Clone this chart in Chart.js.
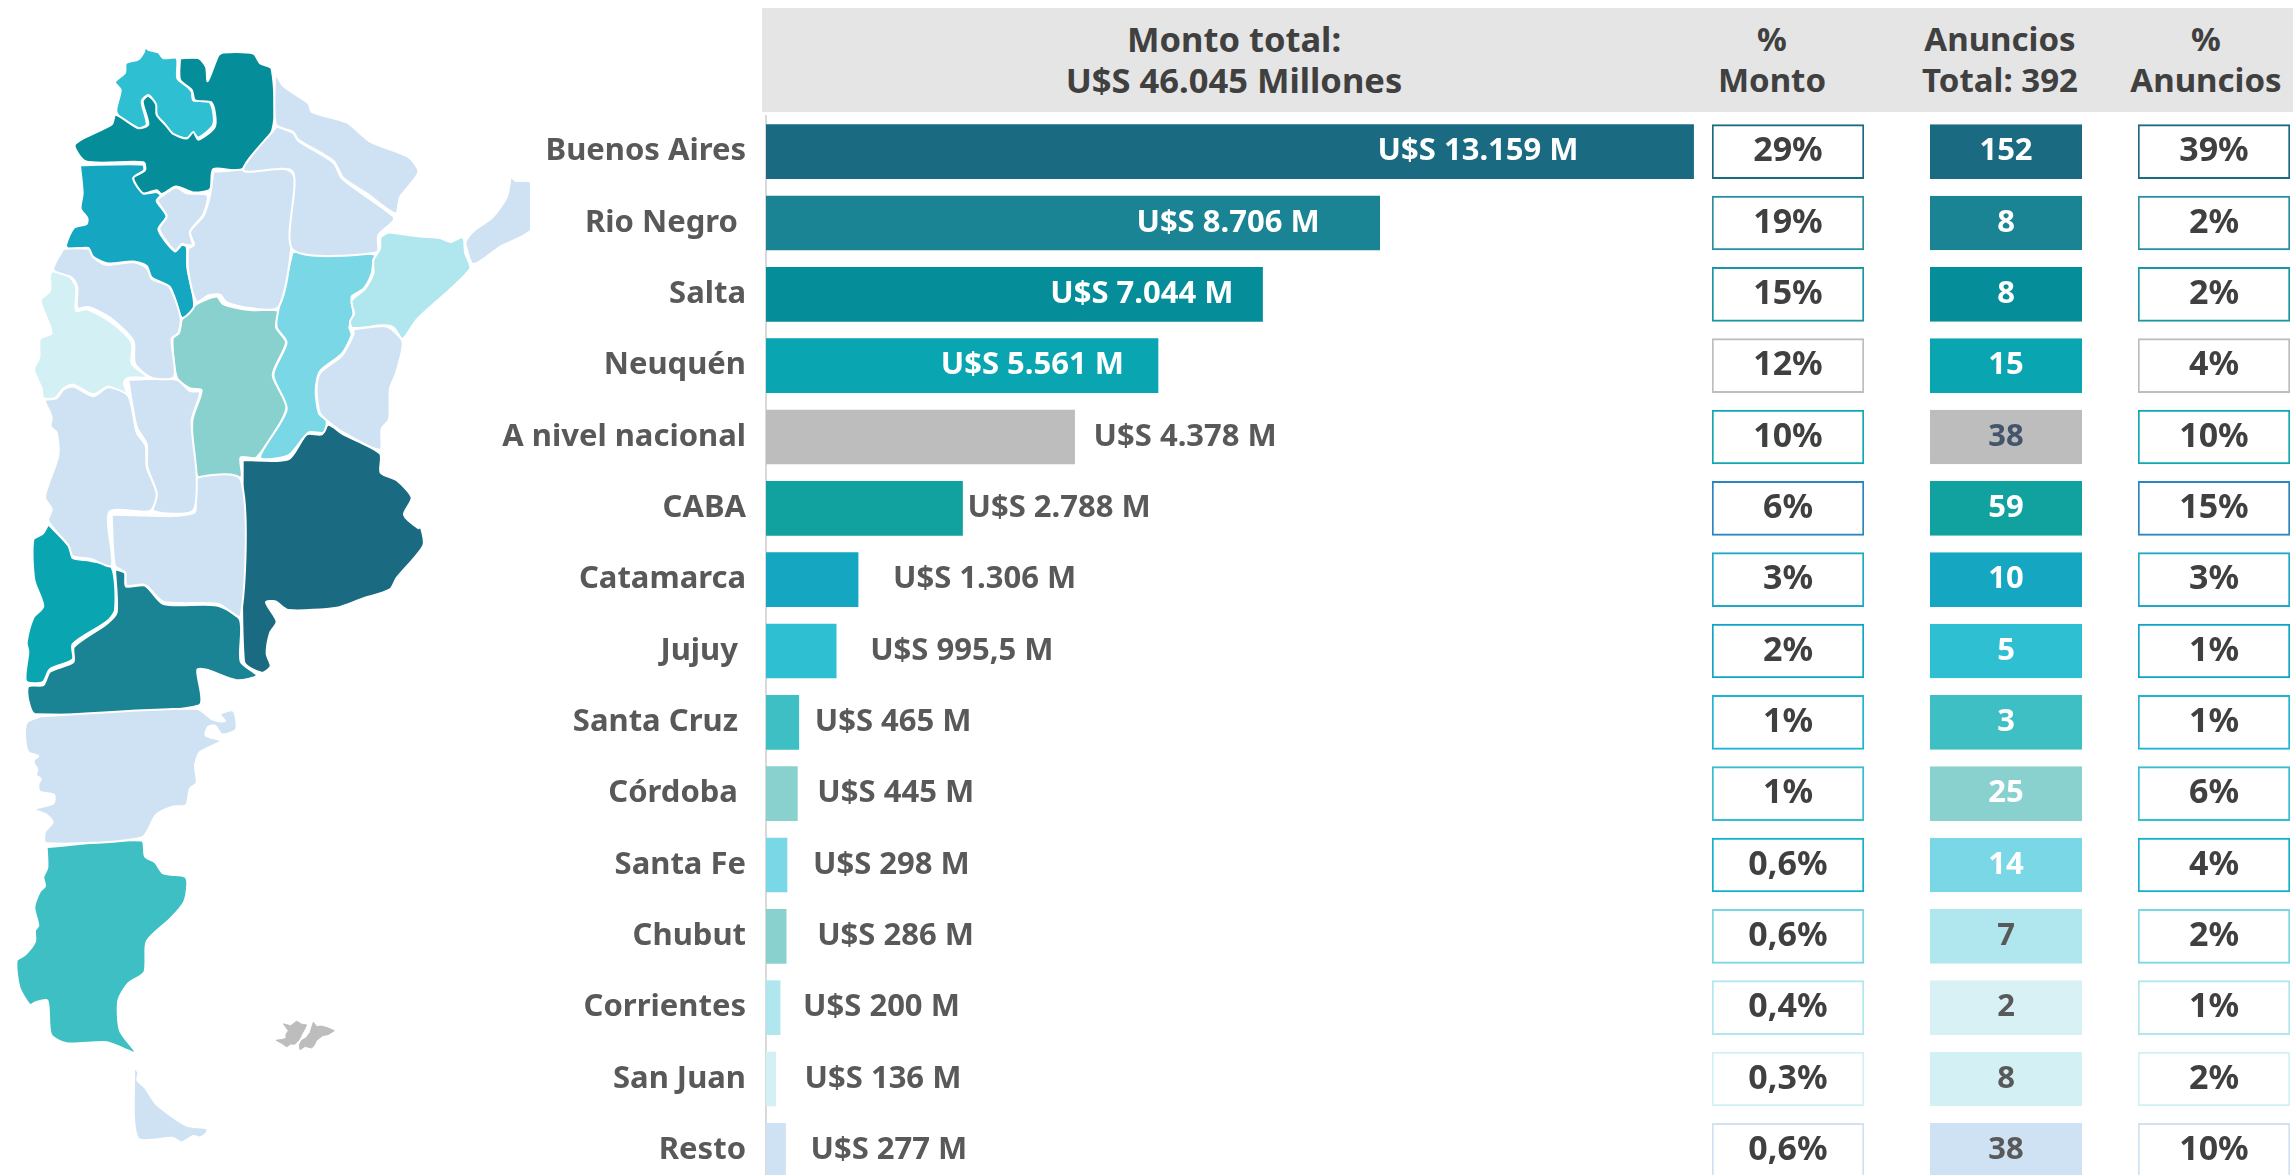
<!DOCTYPE html>
<html>
<head>
<meta charset="utf-8">
<title>Monto y anuncios por provincia</title>
<script src="https://cdn.jsdelivr.net/npm/chart.js@4"></script>
<style>
html, body { margin: 0; padding: 0; background: #fff; width: 2293px; height: 1175px; overflow: hidden; }
canvas { position: absolute; top: 0; }
.band { position: absolute; left: 762px; top: 8px; width: 1531px; height: 104px; background: #E5E5E5; }
.head { position: absolute; top: 18px; transform: translateX(-50%); text-align: center; white-space: nowrap;
	font: 700 33px/41px "Noto Sans", sans-serif; color: #404040; }
</style>
</head>
<body>
<div class="band"></div>
<div class="head" style="left:1234px;font-size:34.5px">Monto total:<br>U$S 46.045 Millones</div>
<div class="head" style="left:1772px">%<br>Monto</div>
<div class="head" style="left:2000px">Anuncios<br>Total: 392</div>
<div class="head" style="left:2206px">%<br>Anuncios</div>
<canvas id="mapa" width="530" height="1175" style="left:0"></canvas>
<canvas id="montos" width="1220" height="1186" style="left:480px"></canvas>
<canvas id="pctmonto" width="154" height="1186" style="left:1711px"></canvas>
<canvas id="anuncios" width="154" height="1186" style="left:1929px"></canvas>
<canvas id="pctanuncios" width="154" height="1186" style="left:2137px"></canvas>
<script>
// datos
var provincias = ['Buenos Aires','Rio Negro ','Salta','Neuquén','A nivel nacional','CABA','Catamarca','Jujuy ','Santa Cruz ','Córdoba ','Santa Fe','Chubut','Corrientes','San Juan','Resto'];
var montos = [13159,8706,7044,5561,4378,2788,1306,995.5,465,445,298,286,200,136,277];
var pctMonto = [29,19,15,12,10,6,3,2,1,1,0.6,0.6,0.4,0.3,0.6];
var anuncios = [152,8,8,15,38,59,10,5,3,25,14,7,2,8,38];
var pctAnuncios = [39,2,2,4,10,15,3,1,1,6,4,2,1,2,10];

// colores
var coloresBarra = ['#1A6B82','#1A8494','#058E99','#09A5B0','#BDBDBD','#11A29F','#15A7C1','#2EBFD3','#3DBFC3','#89D1CF','#7AD7E5','#89D1CF','#B0E7EF','#D3F0F4','#CFE2F3'];
var coloresCelda = ['#1A6B82','#1A8494','#058E99','#09A5B0','#BDBDBD','#11A29F','#15A7C1','#2EBFD3','#3DBFC3','#89D1CF','#7AD7E5','#B0E7EF','#D8F1F4','#D3F0F4','#CFE2F3'];
var coloresBorde = ['#1A6B82','#2A8FA0','#1A97A5','#BDBDBD','#12A8B2','#2A85C0','#1FA9C6','#10A5C6','#1FB5D2','#35BED2','#14B2CA','#7AD7E5','#B0E7EF','#D3F0F4','#CFE2F3'];
var textoCelda = ['#fff','#fff','#fff','#fff','#44546A','#fff','#fff','#fff','#fff','#fff','#fff','#595959','#595959','#595959','#595959'];
// separacion de la etiqueta respecto del fin de la barra (negativo = adentro)
var margenEtiqueta = [-115,-60,-29,-34,19,5,35,34,16,20,26,31,23,29,25];
var fuente = '"Noto Sans", sans-serif';

// contornos del mapa
var jujuy = [[435,122],[445,130],[475,137],[490,152],[530,152],[532,205],[560,225],[575,240],[580,262],[630,268],[640,325],[595,360],[580,348],[560,362],[515,350],[495,325],[470,300],[465,270],[445,248],[425,265],[440,325],[415,335],[350,295],[362,235],[345,215],[375,190],[378,165],[415,155],[432,135]];
var salta = [[540,152],[595,152],[618,175],[623,212],[655,145],[670,137],[760,140],[780,165],[815,180],[817,340],[725,443],[640,442],[630,495],[580,503],[528,487],[485,507],[470,497],[430,505],[400,465],[435,445],[430,424],[258,422],[225,377],[335,325],[347,300],[415,335],[445,325],[428,265],[445,250],[468,272],[470,300],[500,330],[520,350],[560,362],[580,345],[595,365],[645,330],[635,268],[585,262],[575,235],[540,208]];
var catamarca = [[240,432],[428,430],[432,445],[400,465],[430,505],[470,502],[482,510],[470,525],[500,565],[475,600],[525,657],[545,640],[560,645],[562,700],[582,800],[545,830],[510,750],[455,725],[440,695],[400,683],[320,688],[275,668],[265,648],[205,650],[198,640],[222,595],[260,585],[262,570],[242,545],[248,505]];
var tucuman = [[480,515],[528,490],[560,505],[622,510],[610,560],[570,605],[578,640],[560,640],[545,638],[525,655],[478,598],[500,565],[472,525]];
var santiago = [[640,448],[875,450],[875,640],[835,803],[750,805],[680,790],[660,770],[625,772],[590,788],[565,710],[565,650],[582,640],[570,605],[610,565],[630,510]];
var formosa = [[825,190],[850,225],[925,270],[935,292],[1040,320],[1110,370],[1225,410],[1255,450],[1200,515],[1187,558],[1100,505],[1030,465],[1000,420],[895,365],[880,345],[828,325]];
var chaco = [[830,330],[880,348],[895,368],[1000,425],[1025,465],[1090,508],[1180,565],[1180,578],[1135,615],[1130,660],[878,652],[878,448],[730,445]];
var misiones = [[1533,457],[1545,472],[1590,475],[1610,527],[1594,601],[1500,645],[1420,690],[1397,640],[1400,625],[1425,600],[1475,570],[1520,515]];
var corrientes = [[1165,607],[1260,618],[1320,622],[1352,632],[1385,620],[1392,625],[1395,660],[1410,703],[1250,835],[1208,885],[1180,855],[1150,850],[1057,857],[1050,840],[1062,820],[1055,785],[1095,755],[1120,715],[1120,680],[1140,650],[1142,620]];
var entreRios = [[1060,860],[1150,852],[1175,860],[1208,895],[1188,975],[1170,1015],[1167,1095],[1145,1120],[1140,1175],[1030,1130],[990,1105],[960,1080],[950,1020],[960,975],[1025,930],[1060,875]];
var santaFe = [[878,658],[1125,665],[1120,680],[1115,715],[1090,755],[1055,775],[1060,820],[1048,855],[1055,875],[1025,925],[960,970],[947,1020],[957,1080],[980,1100],[970,1130],[925,1130],[865,1190],[780,1195],[860,1070],[820,980],[860,895],[830,855],[835,810]];
var cordoba = [[545,835],[590,795],[650,775],[670,795],[750,810],[833,812],[828,855],[858,895],[818,980],[860,1065],[770,1195],[722,1195],[722,1248],[595,1248],[577,1100],[605,1020],[570,1015],[530,985],[518,885],[537,870]];
var laRioja = [[190,650],[265,650],[280,672],[320,692],[400,685],[440,700],[455,728],[508,750],[542,830],[535,870],[515,885],[522,985],[455,987],[405,950],[400,890],[330,830],[265,802],[232,805],[232,750],[215,725],[160,705]];
var sanJuan = [[155,708],[205,720],[228,750],[228,812],[260,808],[330,840],[395,895],[395,950],[440,985],[385,987],[372,1000],[380,1028],[355,1022],[325,1010],[280,1030],[220,1005],[190,1015],[165,1040],[130,1040],[125,1015],[102,965],[118,935],[120,885],[155,870],[122,785],[150,760],[150,720]];
var mendoza = [[132,1045],[170,1040],[190,1018],[220,1010],[280,1035],[325,1012],[385,1035],[410,1130],[437,1165],[440,1220],[470,1290],[450,1335],[328,1338],[335,1478],[270,1460],[218,1453],[205,1425],[145,1362],[155,1330],[135,1298],[175,1190],[170,1130],[152,1115],[155,1090]];
var sanLuis = [[385,992],[530,992],[570,1022],[600,1025],[575,1100],[590,1245],[578,1335],[460,1335],[470,1290],[442,1220],[440,1160],[410,1115]];
var laPampa = [[335,1345],[582,1340],[582,1253],[722,1253],[722,1610],[655,1578],[490,1572],[435,1528],[380,1530],[375,1495],[345,1478]];
var buenosAires = [[728,1202],[865,1200],[920,1135],[965,1135],[985,1110],[1030,1135],[1140,1185],[1142,1235],[1190,1255],[1235,1300],[1212,1345],[1255,1380],[1262,1375],[1270,1425],[1190,1510],[1170,1540],[1085,1565],[1015,1587],[865,1594],[825,1571],[798,1574],[830,1624],[810,1654],[800,1708],[812,1741],[785,1758],[732,1728]];
var neuquen = [[145,1370],[210,1430],[218,1458],[270,1465],[335,1482],[345,1594],[320,1624],[218,1683],[218,1723],[150,1748],[128,1782],[78,1780],[85,1703],[80,1678],[100,1614],[130,1584],[103,1515],[100,1410],[128,1395]];
var rioNegro = [[345,1487],[375,1497],[378,1532],[435,1530],[490,1578],[650,1582],[720,1620],[722,1728],[770,1765],[710,1777],[620,1750],[592,1750],[597,1843],[105,1866],[85,1830],[85,1793],[130,1790],[150,1755],[220,1730],[222,1690],[320,1630],[350,1600]];
var chubut = [[125,1871],[590,1852],[640,1881],[675,1884],[660,1866],[700,1857],[708,1906],[665,1919],[645,1896],[625,1899],[617,1921],[662,1936],[600,1965],[585,2000],[590,2045],[570,2060],[558,2104],[520,2107],[468,2129],[425,2188],[138,2203],[135,2173],[158,2149],[140,2129],[103,2114],[160,2099],[162,2076],[120,2069],[115,2050],[122,2035],[108,2025],[112,2010],[102,1995],[102,1985],[115,1975],[85,1965],[75,1921],[82,1886]];
var santaCruz = [[140,2213],[425,2196],[435,2238],[465,2253],[490,2282],[555,2290],[562,2307],[552,2357],[510,2401],[440,2460],[433,2540],[385,2569],[355,2614],[360,2693],[408,2751],[380,2743],[320,2723],[200,2726],[153,2703],[142,2614],[105,2619],[90,2626],[58,2579],[50,2510],[75,2495],[105,2460],[105,2431],[115,2418],[103,2371],[120,2329],[135,2315],[130,2292],[142,2267]];
var tierraDelFuego = [[402,2787],[415,2802],[412,2822],[435,2842],[470,2886],[560,2941],[620,2948],[620,2960],[600,2972],[580,2968],[545,2985],[520,2973],[413,2973]];
var malvinasOeste = [[850,2675],[872,2680],[890,2668],[905,2676],[920,2678],[912,2692],[905,2703],[898,2716],[885,2728],[872,2728],[860,2735],[845,2726],[828,2718],[845,2716],[860,2713],[858,2702],[865,2693]];
var malvinasEste = [[940,2671],[950,2682],[965,2681],[985,2686],[1003,2693],[985,2703],[968,2706],[950,2718],[942,2732],[935,2738],[915,2734],[900,2743],[898,2730],[905,2718],[918,2712],[930,2698]];
var puntoCaba = [[1160,1272]];

function provincia(contorno, color, islas) {
	var puntos = contorno.concat([contorno[0]]).map(function (p) { return { x: p[0], y: p[1] }; });
	return { data: puntos, showLine: true, fill: 'shape', tension: islas ? 0 : 0.25, backgroundColor: color, borderColor: islas ? color : '#fff', borderWidth: islas ? 1 : 2, pointRadius: 0 };
}

new Chart(document.getElementById('mapa'), {
	type: 'scatter',
	data: {
		datasets: [
			provincia(formosa, '#CFE2F3'), provincia(chaco, '#CFE2F3'), provincia(misiones, '#CFE2F3'),
			provincia(tucuman, '#CFE2F3'), provincia(santiago, '#CFE2F3'), provincia(entreRios, '#CFE2F3'),
			provincia(laRioja, '#CFE2F3'), provincia(mendoza, '#CFE2F3'), provincia(sanLuis, '#CFE2F3'),
			provincia(laPampa, '#CFE2F3'), provincia(chubut, '#CFE2F3'), provincia(tierraDelFuego, '#CFE2F3'),
			provincia(salta, '#058E99'), provincia(jujuy, '#2EBFD3'), provincia(catamarca, '#15A7C1'),
			provincia(corrientes, '#B0E7EF'), provincia(santaFe, '#7AD7E5'), provincia(cordoba, '#89D1CF'),
			provincia(sanJuan, '#D3F0F4'), provincia(neuquen, '#09A5B0'), provincia(rioNegro, '#1A8494'),
			provincia(santaCruz, '#3DBFC3'), provincia(buenosAires, '#1A6B82'),
			provincia(malvinasOeste, '#BDBDBD', true), provincia(malvinasEste, '#BDBDBD', true),
			{ data: puntoCaba.map(function (p) { return { x: p[0], y: p[1] }; }), pointRadius: 10, pointBackgroundColor: '#11A29F', pointBorderWidth: 0 }
		]
	},
	options: {
		responsive: false, animation: false,
		layout: { autoPadding: false },
		plugins: { legend: { display: false }, tooltip: { enabled: false } },
		scales: {
			x: { type: 'linear', display: false, min: 0, max: 1590 },
			y: { type: 'linear', display: false, min: 0, max: 3070, reverse: true }
		}
	}
});

// escribe el texto de cada barra o celda
var textoBarras = {
	id: 'textoBarras',
	afterDatasetsDraw: function (chart, args, opts) {
		var ctx = chart.ctx;
		var meta = chart.getDatasetMeta(0);
		ctx.save();
		ctx.textBaseline = 'middle';
		ctx.font = opts.font;
		meta.data.forEach(function (bar, i) {
			var valor = chart.data.datasets[0].valores[i];
			var t = opts.formato(valor);
			if (opts.celda) {
				ctx.textAlign = 'center';
				ctx.fillStyle = opts.color(i);
				ctx.fillText(t, chart.chartArea.left + chart.chartArea.width / 2, bar.y);
			} else if (margenEtiqueta[i] < 0) {
				ctx.textAlign = 'right';
				ctx.fillStyle = '#fff';
				ctx.fillText(t, bar.x + margenEtiqueta[i], bar.y);
			} else {
				ctx.textAlign = 'left';
				ctx.fillStyle = '#595959';
				ctx.fillText(t, bar.x + margenEtiqueta[i], bar.y);
			}
		});
		ctx.restore();
	}
};

function formatoMiles(v) { return v.toLocaleString('es-AR'); }
function formatoPct(v) { return String(v).replace('.', ',') + '%'; }

new Chart(document.getElementById('montos'), {
	type: 'bar',
	data: {
		labels: provincias,
		datasets: [{ data: montos, valores: montos, backgroundColor: coloresBarra, barThickness: 54 }]
	},
	options: {
		indexAxis: 'y', responsive: false, animation: false,
		layout: { padding: { top: 116, bottom: 0, left: 0, right: 0 } },
		plugins: {
			legend: { display: false }, tooltip: { enabled: false },
			textoBarras: { font: '700 31px ' + fuente, formato: function (v) { return 'U$S ' + formatoMiles(v) + ' M'; } }
		},
		scales: {
			x: { display: false, min: 0, max: 13250 },
			y: {
				afterFit: function (s) { s.width = 286; s.paddingTop = 0; s.paddingBottom = 0; },
				grid: { display: false, drawTicks: false },
				border: { display: true, color: '#D9D9D9', width: 2 },
				ticks: { color: '#595959', padding: 20, font: { family: fuente, size: 31, weight: 700 } }
			}
		}
	},
	plugins: [textoBarras]
});

// columnas de la tabla: cada fila es una celda entera del eje
function columna(id, valores, relleno, borde, formato, colorTexto, tam) {
	new Chart(document.getElementById(id), {
		type: 'bar',
		data: {
			labels: provincias,
			datasets: [{ data: valores.map(function () { return 1; }), valores: valores, backgroundColor: relleno, borderColor: borde, borderWidth: 2, borderSkipped: false, barThickness: 54 }]
		},
		options: {
			indexAxis: 'y', responsive: false, animation: false,
			layout: { padding: { top: 116, bottom: 0, left: 1, right: 1 } },
			plugins: {
				legend: { display: false }, tooltip: { enabled: false },
				textoBarras: { celda: true, font: '700 ' + tam + 'px ' + fuente, formato: formato, color: colorTexto }
			},
			scales: { x: { display: false, min: 0, max: 1 }, y: { display: false } }
		},
		plugins: [textoBarras]
	});
}

columna('pctmonto', pctMonto, '#fff', coloresBorde, formatoPct, function () { return '#404040'; }, 34);
columna('anuncios', anuncios, coloresCelda, coloresCelda, String, function (i) { return textoCelda[i]; }, 31);
columna('pctanuncios', pctAnuncios, '#fff', coloresBorde, formatoPct, function () { return '#404040'; }, 34);
</script>
</body>
</html>
